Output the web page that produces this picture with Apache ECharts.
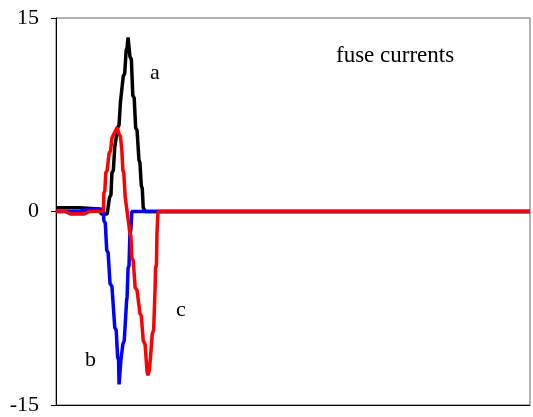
<!DOCTYPE html>
<html>
<head>
<meta charset="utf-8">
<script src="https://cdn.jsdelivr.net/npm/echarts@6/dist/echarts.min.js"></script>
<style>html,body{margin:0;padding:0;background:#fff}#c{width:533px;height:417px}</style>
</head>
<body>
<div id="c"></div>
<script>
var yTicks = [-15, 0, 15];
var seriesA = [[0,0.3],[5,0.3],[9,0.2],[9.6,-0.2],[10.8,-0.2],[11.3,1.1],[11.6,1.3],[11.8,3],[12.1,3.2],[12.4,5],[12.7,5.1],[13,6.5],[13.3,6.7],[13.6,8.5],[13.9,8.6],[14.2,10.5],[14.5,10.7],[14.8,12.5],[15,12.7],[15.2,13.5],[15.4,13.4],[15.6,12],[15.9,11.8],[16.2,9],[16.5,8.8],[16.8,6.5],[17.1,6.3],[17.5,4],[17.7,3.8],[18,2],[18.2,1.8],[18.4,0.3],[18.8,0],[100,0]];
var seriesB = [[0,0],[5,0],[6,0.1],[8,0.2],[9.5,0.2],[10,0],[10.1,-0.7],[10.4,-0.9],[10.7,-3],[11,-3.2],[11.4,-5.6],[11.8,-5.8],[12.4,-9],[12.7,-9.2],[13,-11.3],[13.2,-11.5],[13.3,-13.4],[13.5,-13.4],[13.7,-11.5],[14.1,-10.3],[14.4,-10],[14.9,-6.9],[15,-6.6],[15.2,-4.4],[15.4,-4.2],[15.6,-1.7],[15.8,-1.4],[16,0],[100,0]];
var seriesC = [[0,0],[2,0],[3,-0.2],[6,-0.2],[7,0],[10,0],[10.1,1.4],[10.3,1.6],[10.5,3],[10.8,3.2],[11.2,4.5],[11.5,4.7],[11.8,5.7],[12.2,6],[12.9,6.5],[13.3,6],[13.6,5.8],[13.9,4.7],[14.1,3.2],[14.3,3],[14.6,1.1],[15,0],[15.6,-1.7],[15.8,-1.9],[16,-3.6],[16.3,-3.8],[16.7,-5.9],[17.1,-6.1],[17.7,-7.9],[18,-8.1],[18.4,-10],[18.8,-10.3],[19.2,-12.4],[19.4,-12.7],[19.7,-12.3],[20,-11],[20.3,-9.5],[20.6,-9.2],[20.9,-6],[21,-4.4],[21.2,-4.1],[21.3,-1.7],[21.5,-0.2],[21.6,0],[100,0]];
var title = 'fuse currents';
var labels = ['a','b','c'];

var chart = echarts.init(document.getElementById('c'), null, {renderer:'canvas'});
var font = '"Liberation Serif","Times New Roman",serif';
function line(name, data, color){
  return {name:name, type:'line', data:data, symbol:'none', animation:false,
    lineStyle:{color:color, width:3.5}, z:2};
}
chart.setOption({
  backgroundColor:'#fff',
  animation:false,
  grid:{left:56, top:18, right:3, bottom:12, show:true, borderColor:'#666', borderWidth:1},
  xAxis:{type:'value', min:0, max:100, axisLabel:{show:false}, axisTick:{show:false},
    splitLine:{show:false}, axisLine:{show:true, onZero:false, lineStyle:{color:'#000', width:1}}},
  yAxis:{type:'value', min:yTicks[0], max:yTicks[2], interval:15,
    axisLine:{show:true, lineStyle:{color:'#000', width:1}},
    axisTick:{show:true, length:5, lineStyle:{color:'#000'}},
    axisLabel:{color:'#000', fontSize:22, fontFamily:font, margin:17},
    splitLine:{show:false}},
  graphic:[
    {type:'text', left:336, top:44, style:{text:title, fontSize:23, fontFamily:font, fill:'#000'}},
    {type:'text', left:150, top:62, style:{text:labels[0], fontSize:22, fontFamily:font, fill:'#000'}},
    {type:'text', left:85, top:349, style:{text:labels[1], fontSize:22, fontFamily:font, fill:'#000'}},
    {type:'text', left:176, top:299, style:{text:labels[2], fontSize:22, fontFamily:font, fill:'#000'}}
  ],
  series:[line('a', seriesA, '#000'), line('b', seriesB, '#0000ff'), line('c', seriesC, '#ff0000')]
});
</script>
</body>
</html>
